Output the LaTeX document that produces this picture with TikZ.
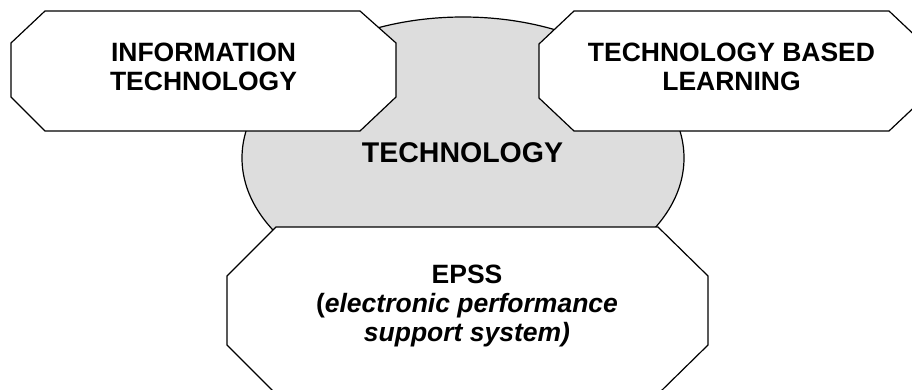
\documentclass[tikz,border=0pt]{standalone}
\usepackage{fontspec}
\setmainfont{Liberation Sans}
\begin{document}
\begin{tikzpicture}[x=1pt,y=-1pt,
  outline/.style={draw=black,line width=1.2pt,line join=miter},
  boxlabel/.style={align=center,inner sep=0pt,font=\fontsize{26.5}{29}\selectfont\bfseries},
  centrelabel/.style={align=center,inner sep=0pt,font=\fontsize{28.5}{31}\selectfont\bfseries}]
\useasboundingbox (0,0) rectangle (912,390);
\clip (0,0) rectangle (912,390);
\fill[white] (0,0) rectangle (912,390);

% central technology ellipse
\path[outline,fill={rgb,255:red,221;green,221;blue,221}] (463,158) ellipse [x radius=221,y radius=141];

% information technology octagon
\path[outline,fill=white] (45,11) -- (360,11) -- (396,43) -- (396,97) -- (360,131)
  -- (45,131) -- (11,97) -- (11,43) -- cycle;

% technology based learning octagon
\path[outline,fill=white] (574,11) -- (889,11) -- (924,44) -- (924,98) -- (889,131)
  -- (574,131) -- (539,98) -- (539,44) -- cycle;

% EPSS octagon
\path[outline,fill=white] (276,227) -- (658,227) -- (708,276) -- (708,345) -- (658,394)
  -- (276,394) -- (227,345) -- (227,276) -- cycle;

\node[boxlabel] (it) at (203.5,67) {INFORMATION\\TECHNOLOGY};
\node[boxlabel] (tbl) at (731.5,67) {TECHNOLOGY BASED\\LEARNING};
\node[centrelabel] (tech) at (462.5,152.5) {TECHNOLOGY};
\node[boxlabel] (epss) at (467,306) {EPSS\\(\textit{electronic performance}\\\textit{support system)}};
\end{tikzpicture}
\end{document}
